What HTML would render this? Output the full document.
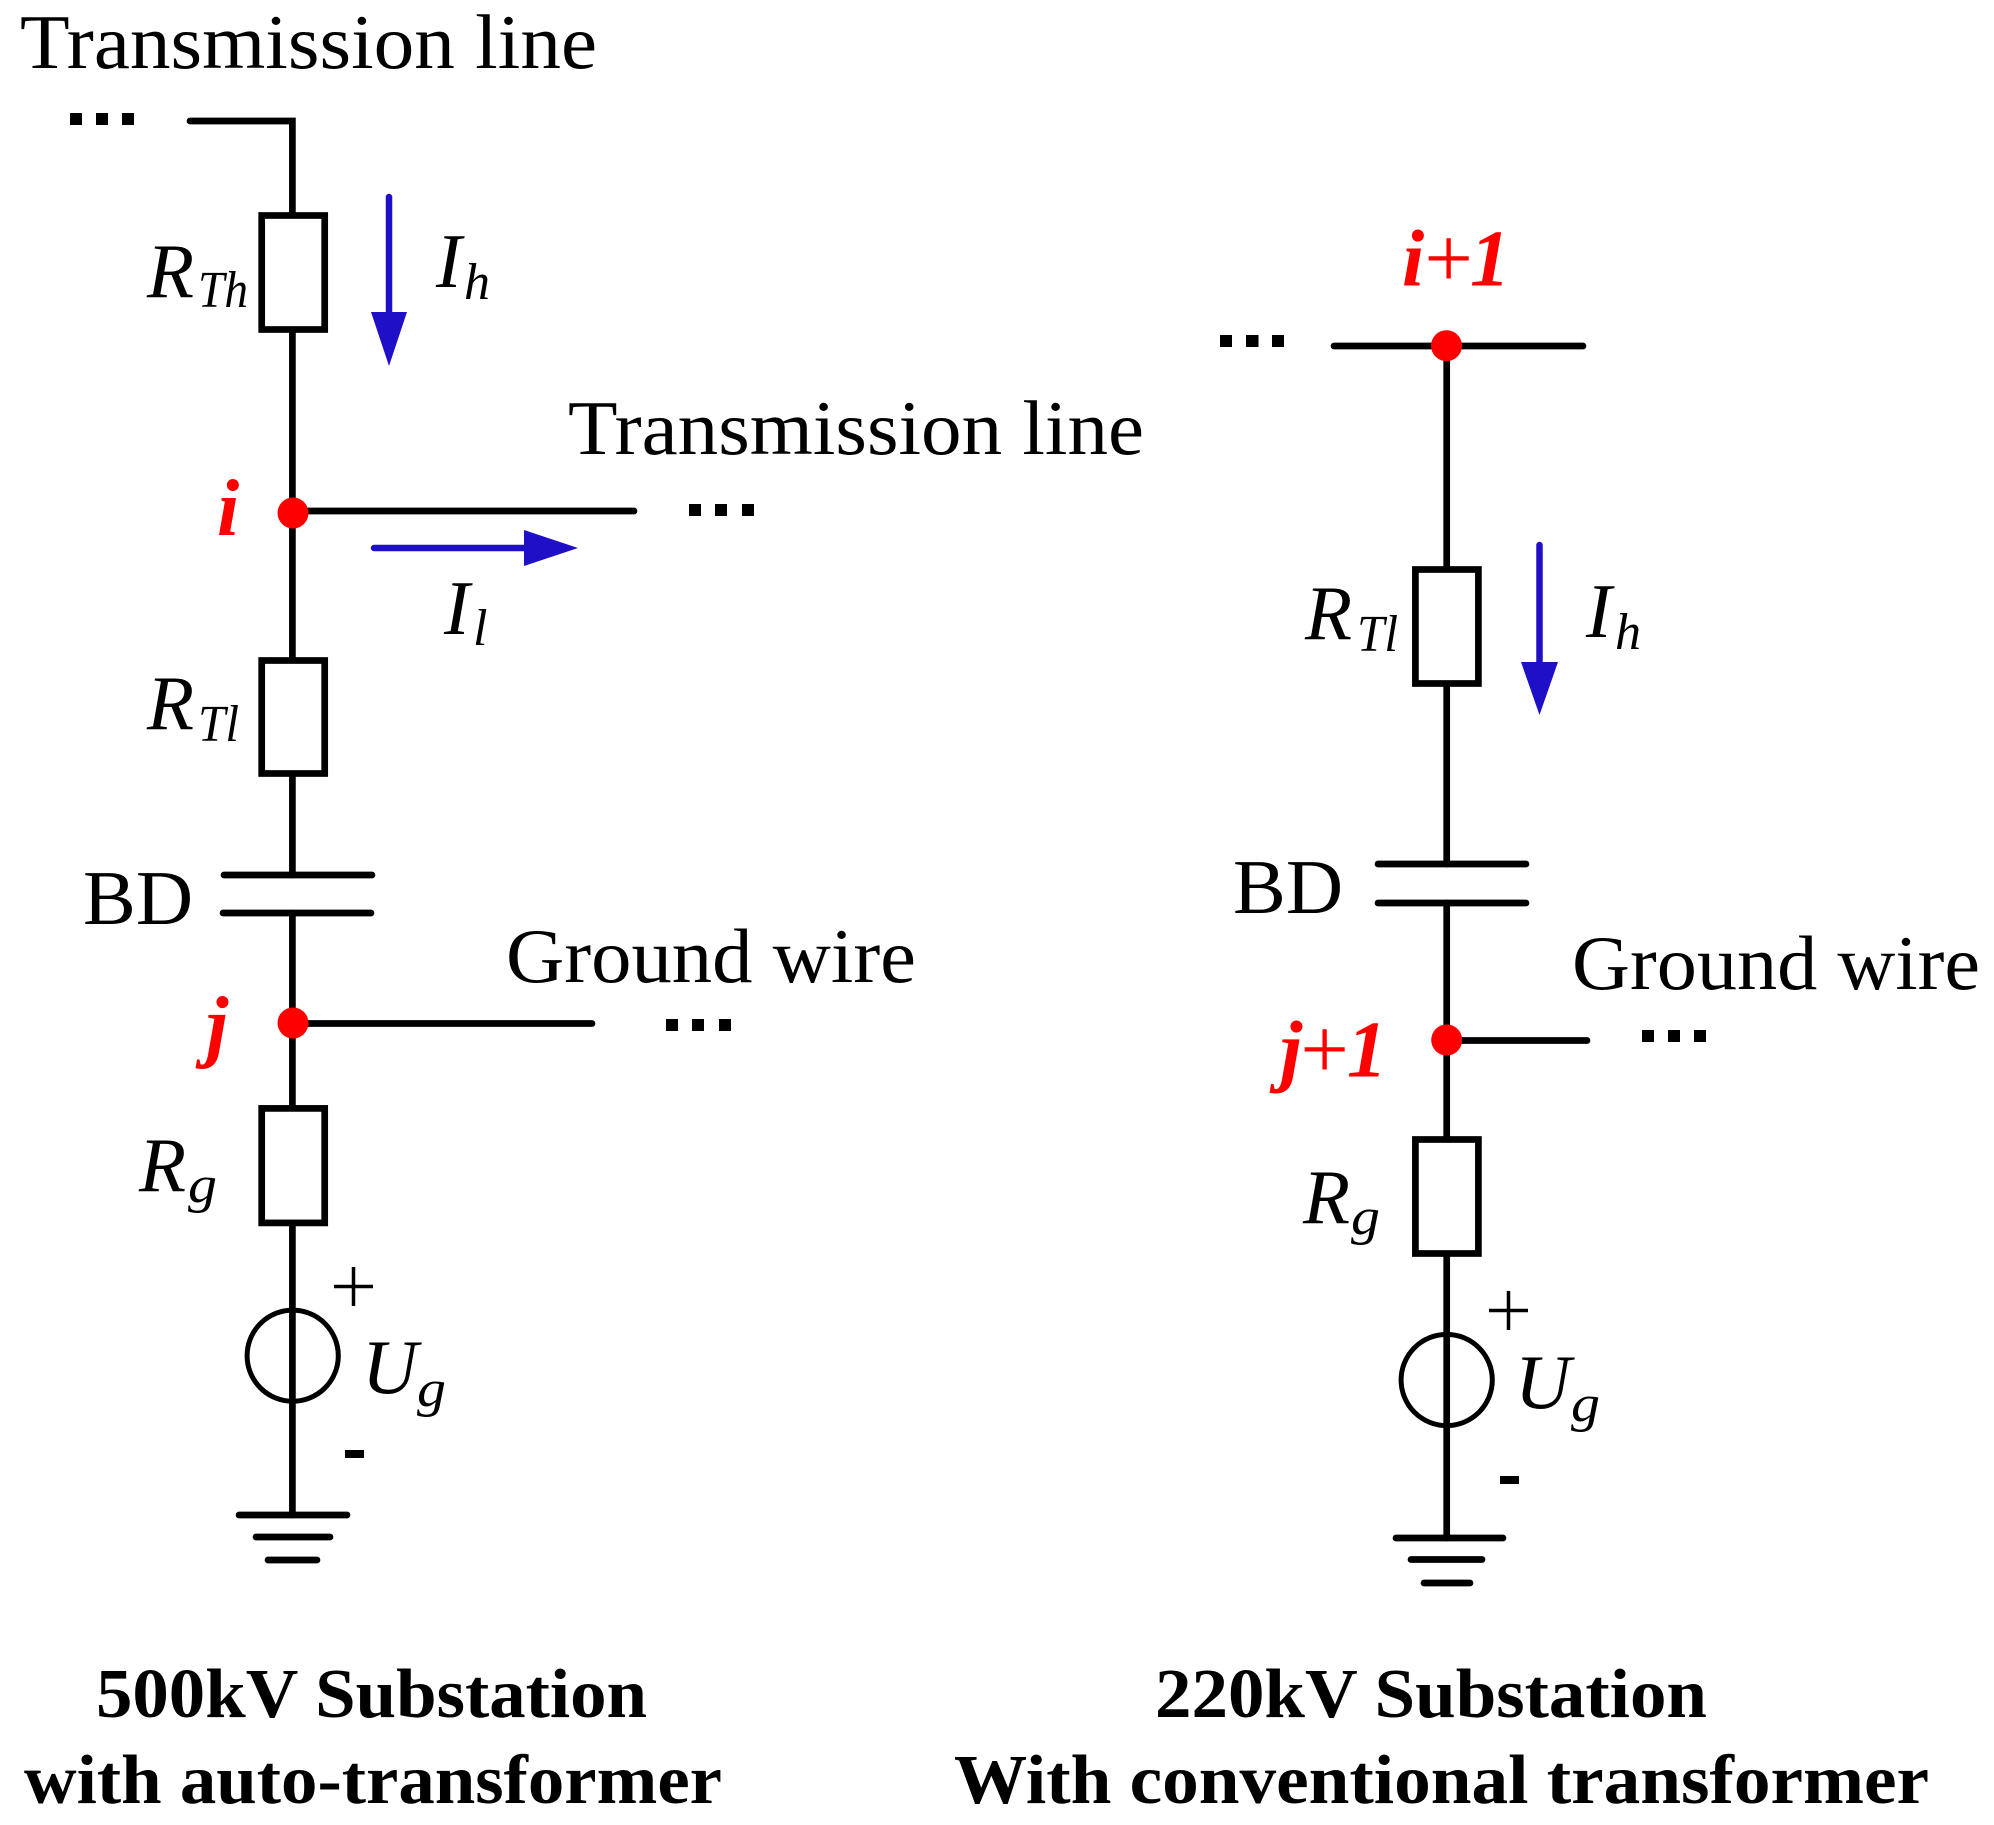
<!DOCTYPE html>
<html><head><meta charset="utf-8"><style>
html,body{margin:0;padding:0;background:#fff}
svg{display:block}
text{font-family:"Liberation Serif",serif;fill:#000}
.t{font-size:77px}
.i{font-size:77px;font-style:italic}
.s{font-size:52px;font-style:italic}
.b{font-size:70px;font-weight:bold}
.r{font-size:80px;font-weight:bold;font-style:italic;fill:#f00}
.p{font-size:86px;fill:#f00}
.w{fill:none;stroke:#000;stroke-width:6.7;stroke-linecap:round}
.c{fill:#fff;stroke:#000;stroke-width:6.7}
.v{fill:none;stroke:#000;stroke-width:5}
.a{stroke:#1f10c8;stroke-width:6.5;stroke-linecap:round;fill:none}
.h{fill:#1f10c8}
.d{fill:#000}
</style></head><body>
<svg width="1994" height="1825" viewBox="0 0 1994 1825" xmlns="http://www.w3.org/2000/svg">
<rect width="1994" height="1825" fill="#fff"/>

<!-- Left circuit -->
<path class="w" d="M190 121H292.4V875M292.4 913V1515"/>
<path class="w" d="M293 511H634"/>
<path class="w" d="M293 1023.5H592"/>
<rect x="261.7" y="215.5" width="63" height="114" class="c"/>
<rect x="261.7" y="660.5" width="63" height="113" class="c"/>
<path class="w" d="M224 875H372M223 913H371"/>
<rect x="261.7" y="1108.4" width="63" height="114.5" class="c"/>
<circle cx="292.7" cy="1355.7" r="45.6" class="v"/>
<path class="w" d="M239 1515H347"/>
<path class="w" d="M256 1537H330"/>
<path class="w" d="M268 1560H317"/>
<circle cx="293" cy="513" r="15.5" fill="#f00"/>
<circle cx="293" cy="1023" r="15.5" fill="#f00"/>
<rect class="d" x="70" y="113" width="12" height="12"/><rect class="d" x="96" y="113" width="12" height="12"/><rect class="d" x="122" y="113" width="12" height="12"/>
<rect class="d" x="689" y="504" width="12" height="12"/><rect class="d" x="715" y="504" width="12" height="12"/><rect class="d" x="742" y="504" width="12" height="12"/>
<rect class="d" x="666" y="1019" width="12" height="12"/><rect class="d" x="692" y="1019" width="12" height="12"/><rect class="d" x="719" y="1019" width="12" height="12"/>

<path class="a" d="M389 197V315"/><path class="h" d="M371 312H407L389 366Z"/>
<path class="a" d="M374 548H527"/><path class="h" d="M524 530V566L578 548Z"/>

<text class="t" x="20" y="68" textLength="577" lengthAdjust="spacingAndGlyphs">Transmission line</text>
<text class="t" x="568" y="454" textLength="576" lengthAdjust="spacingAndGlyphs">Transmission line</text>
<text class="t" x="506" y="982" textLength="410" lengthAdjust="spacingAndGlyphs">Ground wire</text>
<text class="t" x="83" y="924" textLength="110" lengthAdjust="spacingAndGlyphs">BD</text>
<text class="i" x="147" y="297">R</text><text class="s" x="198" y="307" textLength="50" lengthAdjust="spacingAndGlyphs">Th</text>
<text class="i" x="147" y="729">R</text><text class="s" x="198" y="741" textLength="41" lengthAdjust="spacingAndGlyphs">Tl</text>
<text class="i" x="139" y="1191">R</text><text class="s" x="188" y="1202" textLength="29" lengthAdjust="spacingAndGlyphs">g</text>
<text class="i" x="436" y="287">I</text><text class="s" x="464" y="299">h</text>
<text class="i" x="444" y="634">I</text><text class="s" x="473" y="645">l</text>
<text class="i" x="362" y="1393">U</text><text class="s" x="417" y="1406" textLength="29" lengthAdjust="spacingAndGlyphs">g</text>
<path d="M334 1286.5H373M353.5 1267V1306" fill="none" stroke="#000" stroke-width="3.5"/>
<rect class="d" x="345" y="1450" width="19" height="8"/>
<text class="r" x="217" y="535">i</text>
<text class="r" x="206" y="1052">j</text>
<text class="b" x="96" y="1717" textLength="551" lengthAdjust="spacingAndGlyphs">500kV Substation</text>
<text class="b" x="24" y="1803" textLength="698" lengthAdjust="spacingAndGlyphs">with auto-transformer</text>

<!-- Right circuit -->
<path class="w" d="M1334 346H1583"/>
<path class="w" d="M1446.7 346V864M1446.7 903V1538"/>
<path class="w" d="M1447 1040.5H1587"/>
<rect x="1415.4" y="569.5" width="63" height="114" class="c"/>
<path class="w" d="M1378 864H1526M1378 903H1526"/>
<rect x="1415.4" y="1139.5" width="63" height="114" class="c"/>
<circle cx="1446.7" cy="1380" r="45.6" class="v"/>
<path class="w" d="M1396 1538H1503"/>
<path class="w" d="M1411 1559.5H1482"/>
<path class="w" d="M1424 1583H1470"/>
<circle cx="1446.5" cy="345.7" r="15.5" fill="#f00"/>
<circle cx="1446.7" cy="1040" r="15.5" fill="#f00"/>
<rect class="d" x="1220" y="335" width="12" height="12"/><rect class="d" x="1246" y="335" width="12.5" height="12"/><rect class="d" x="1272" y="335" width="12" height="12"/>
<rect class="d" x="1642" y="1030" width="12" height="12"/><rect class="d" x="1668" y="1030" width="12" height="12"/><rect class="d" x="1694" y="1030" width="12" height="12"/>
<path class="a" d="M1539.5 545V665"/><path class="h" d="M1521 662H1558L1539.5 715Z"/>

<text class="r" x="1402" y="285.7">i</text>
<text class="p" x="1424.4" y="287">+</text>
<text class="r" x="1470" y="285.7">1</text>
<text class="r" x="1280" y="1076.7">j</text>
<text class="p" x="1300.4" y="1078">+</text>
<text class="r" x="1347" y="1076.7">1</text>
<text class="t" x="1572" y="989" textLength="408" lengthAdjust="spacingAndGlyphs">Ground wire</text>
<text class="t" x="1233" y="913" textLength="110" lengthAdjust="spacingAndGlyphs">BD</text>
<text class="i" x="1305" y="639">R</text><text class="s" x="1357" y="651" textLength="41" lengthAdjust="spacingAndGlyphs">Tl</text>
<text class="i" x="1303" y="1223">R</text><text class="s" x="1351" y="1234" textLength="29" lengthAdjust="spacingAndGlyphs">g</text>
<text class="i" x="1515" y="1408">U</text><text class="s" x="1571" y="1421" textLength="29" lengthAdjust="spacingAndGlyphs">g</text>
<text class="i" x="1586" y="637">I</text><text class="s" x="1615" y="649">h</text>
<path d="M1489 1310.5H1528M1508.5 1291V1330" fill="none" stroke="#000" stroke-width="3.5"/>
<rect class="d" x="1500" y="1476" width="19" height="8"/>
<text class="b" x="1155" y="1717" textLength="552" lengthAdjust="spacingAndGlyphs">220kV Substation</text>
<text class="b" x="954" y="1803" textLength="975" lengthAdjust="spacingAndGlyphs">With conventional transformer</text>
</svg>
</body></html>
